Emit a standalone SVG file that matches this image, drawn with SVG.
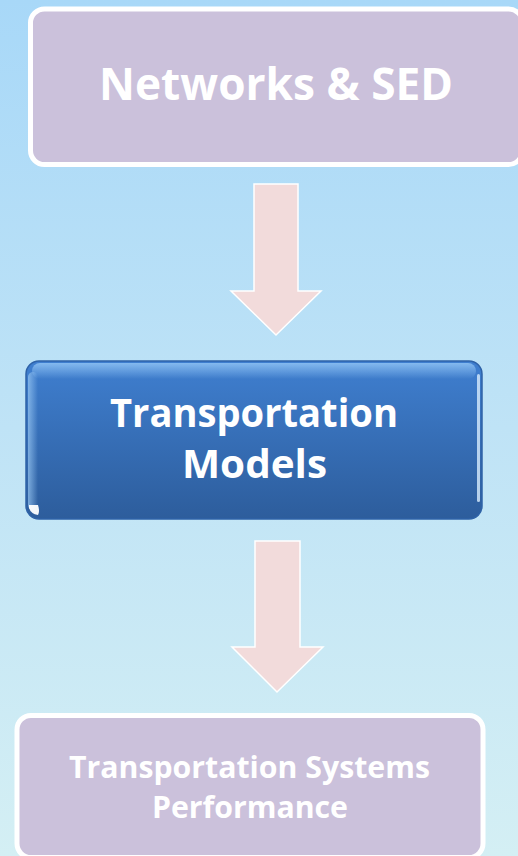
<svg xmlns="http://www.w3.org/2000/svg" width="518" height="856" viewBox="0 0 518 856">
<defs>
<linearGradient id="bg" x1="0" y1="0" x2="0" y2="1">
<stop offset="0" stop-color="#a8d8f8"/>
<stop offset="0.5" stop-color="#bfe3f6"/>
<stop offset="1" stop-color="#d4eff4"/>
</linearGradient>
<linearGradient id="blue" x1="0" y1="0" x2="0" y2="1">
<stop offset="0" stop-color="#3f7fd0"/>
<stop offset="1" stop-color="#2d5d9c"/>
</linearGradient>
<linearGradient id="topHi" x1="0" y1="0" x2="0" y2="1">
<stop offset="0" stop-color="#8cc0f2" stop-opacity="0.9"/>
<stop offset="1" stop-color="#8cc0f2" stop-opacity="0"/>
</linearGradient>
<linearGradient id="leftHi" x1="0" y1="0" x2="1" y2="0">
<stop offset="0" stop-color="#9ccaf4" stop-opacity="0.7"/>
<stop offset="1" stop-color="#9ccaf4" stop-opacity="0"/>
</linearGradient>
</defs>
<style>
.plate{fill:#cbc1db;stroke:#ffffff;stroke-width:5}
.arrow{fill:#f2dbdb;stroke:#ffffff;stroke-width:1.5}
.t{font-family:"Open Sans","Liberation Sans",sans-serif;font-weight:bold;fill:#ffffff;text-anchor:middle}
</style>
<rect x="0" y="0" width="518" height="856" fill="url(#bg)"/>
<g id="connectors">
<polygon class="arrow" points="254,184 298,184 298,291 321,291 276,335 231,291 254,291"/>
<polygon class="arrow" points="255,541 300,541 300,647 323,647 277,692 232,647 255,647"/>
</g>
<g id="node-networks">
<rect class="plate" x="30.5" y="9" width="492" height="155.5" rx="14"/>
<text class="t" x="276" y="100" font-size="45" textLength="354" lengthAdjust="spacingAndGlyphs">Networks &amp; SED</text>
</g>
<g id="node-models">
<rect x="26" y="361" width="456" height="158" rx="13" fill="url(#blue)" stroke="#2f63a8" stroke-width="1.5"/>
<rect x="32" y="363" width="444" height="16" rx="8" fill="url(#topHi)"/>
<rect x="28" y="372" width="10" height="138" rx="5" fill="url(#leftHi)"/>
<rect x="477" y="374" width="3" height="128" rx="1.5" fill="#d8ecfc" opacity="0.8"/>
<path d="M29,505 L38,505 Q40,512 38,515 Q31,514 29,508 Z" fill="#ffffff" opacity="0.95"/>
<text class="t" x="254" y="427" font-size="40" textLength="288" lengthAdjust="spacingAndGlyphs">Transportation</text>
<text class="t" x="254.5" y="478" font-size="40" textLength="145" lengthAdjust="spacingAndGlyphs">Models</text>
</g>
<g id="node-performance">
<rect class="plate" x="17" y="715.5" width="466" height="142" rx="14"/>
<text class="t" x="249.5" y="778" font-size="31" textLength="361" lengthAdjust="spacingAndGlyphs">Transportation Systems</text>
<text class="t" x="250" y="818" font-size="31" textLength="196" lengthAdjust="spacingAndGlyphs">Performance</text>
</g>
</svg>
